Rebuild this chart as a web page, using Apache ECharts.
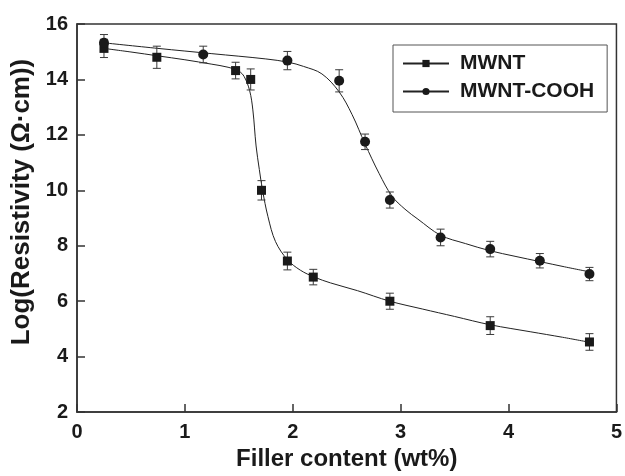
<!DOCTYPE html>
<html>
<head>
<meta charset="utf-8">
<script src="https://cdn.jsdelivr.net/npm/echarts@6/dist/echarts.min.js"></script>
<style>
  html, body { margin: 0; padding: 0; background: #fff; }
  #chart { width: 625px; height: 476px; }
</style>
</head>
<body>
<div id="chart"></div>
<script>
"use strict";

// measured points (wt%, log resistivity, error)
var mwntX = [0.25, 0.74, 1.47, 1.61, 1.71, 1.95, 2.19, 2.90, 3.83, 4.75];
var mwntY = [15.12, 14.80, 14.32, 14.00, 10.00, 7.45, 6.87, 6.00, 5.12, 4.53];
var mwntErr = [0.33, 0.40, 0.30, 0.38, 0.35, 0.32, 0.28, 0.29, 0.32, 0.30];

var coohX = [0.25, 1.17, 1.95, 2.43, 2.67, 2.90, 3.37, 3.83, 4.29, 4.75];
var coohY = [15.32, 14.90, 14.68, 13.95, 11.75, 9.65, 8.30, 7.88, 7.46, 6.98];
var coohErr = [0.30, 0.30, 0.33, 0.40, 0.28, 0.29, 0.30, 0.28, 0.26, 0.24];

// fitted curves
var mwntFitX = [0.25, 0.5, 0.75, 1.0, 1.25, 1.4, 1.5, 1.55, 1.6, 1.63, 1.66, 1.69, 1.72, 1.77, 1.84, 1.95, 2.07, 2.2, 2.35, 2.6, 2.9, 3.2, 3.5, 3.83, 4.2, 4.5, 4.75];
var mwntFitY = [15.12, 14.99, 14.85, 14.71, 14.55, 14.44, 14.3, 14.1, 13.6, 12.9, 11.6, 10.75, 10.0, 9.05, 8.15, 7.5, 7.12, 6.87, 6.66, 6.38, 6.0, 5.72, 5.45, 5.15, 4.90, 4.70, 4.52];

var coohFitX = [0.25, 0.75, 1.25, 1.75, 1.96, 2.1, 2.27, 2.43, 2.55, 2.67, 2.8, 2.92, 3.04, 3.16, 3.37, 3.6, 3.83, 4.06, 4.29, 4.52, 4.75];
var coohFitY = [15.32, 15.12, 14.93, 14.74, 14.62, 14.47, 14.2, 13.55, 12.73, 11.67, 10.61, 9.79, 9.32, 8.96, 8.38, 8.08, 7.82, 7.62, 7.43, 7.24, 7.06];

var xTicks = { min: 0, max: 5, step: 1 };
var yTicks = { min: 2, max: 16, step: 2 };

var FONT = "'Liberation Sans', Arial, sans-serif";
var INK = "#1a1a1a";

function pairs(xs, ys) {
    var a = [];
    for (var i = 0; i < xs.length; i++) { a.push([xs[i], ys[i]]); }
    return a;
}

function triples(xs, ys, es) {
    var a = [];
    for (var i = 0; i < xs.length; i++) { a.push([xs[i], ys[i], es[i]]); }
    return a;
}

function errBar(params, api) {
    var x = api.value(0), y = api.value(1), e = api.value(2);
    var hi = api.coord([x, y + e]);
    var lo = api.coord([x, y - e]);
    var w = 4;
    var st = { stroke: "#3a3a3a", lineWidth: 1 };
    return {
        type: "group",
        children: [
            { type: "line", shape: { x1: hi[0], y1: hi[1], x2: lo[0], y2: lo[1] }, style: st },
            { type: "line", shape: { x1: hi[0] - w, y1: hi[1], x2: hi[0] + w, y2: hi[1] }, style: st },
            { type: "line", shape: { x1: lo[0] - w, y1: lo[1], x2: lo[0] + w, y2: lo[1] }, style: st }
        ]
    };
}

var chart = echarts.init(document.getElementById("chart"));

var axisCommon = {
    type: "value",
    nameLocation: "middle",
    nameTextStyle: { fontFamily: FONT, fontSize: 24, fontWeight: "bold", color: INK },
    axisLine: { show: true, lineStyle: { color: "#333", width: 1.5 } },
    axisTick: { show: true, inside: true, length: 8, lineStyle: { color: "#333", width: 1.5 } },
    axisLabel: { fontFamily: FONT, fontSize: 20, fontWeight: "bold", color: INK },
    splitLine: { show: false }
};

var option = {
    animation: false,
    backgroundColor: "#fff",
    grid: {
        left: 77, right: 8, top: 24, bottom: 56,
        show: true, borderColor: "#333", borderWidth: 1.5
    },
    legend: {
        data: ["MWNT", "MWNT-COOH"],
        orient: "vertical",
        left: 393,
        top: 45,
        itemWidth: 46,
        itemHeight: 9,
        itemGap: 7,
        padding: [8, 13, 10, 9],
        borderColor: "#555",
        borderWidth: 1,
        backgroundColor: "#fff",
        textStyle: { fontFamily: FONT, fontSize: 21, fontWeight: "bold", color: INK, padding: [0, 0, 0, 6] }
    },
    xAxis: Object.assign({}, axisCommon, {
        name: "Filler content (wt%)",
        nameGap: 32,
        min: xTicks.min, max: xTicks.max, interval: xTicks.step,
        axisLabel: Object.assign({}, axisCommon.axisLabel, { margin: 10 })
    }),
    yAxis: Object.assign({}, axisCommon, {
        name: "Log(Resistivity (\u03a9\u00b7cm))",
        nameGap: 42,
        nameTextStyle: Object.assign({}, axisCommon.nameTextStyle, { fontSize: 26, padding: [0, 0, 0, 32] }),
        min: yTicks.min, max: yTicks.max, interval: yTicks.step,
        axisLabel: Object.assign({}, axisCommon.axisLabel, { margin: 9 })
    }),
    series: [
        {
            name: "MWNT", type: "line", data: pairs(mwntFitX, mwntFitY),
            smooth: 0.35, symbol: "rect", showSymbol: false,
            lineStyle: { color: "#222", width: 1 }, itemStyle: { color: INK }, z: 2
        },
        {
            name: "MWNT-COOH", type: "line", data: pairs(coohFitX, coohFitY),
            smooth: 0.35, symbol: "circle", showSymbol: false,
            lineStyle: { color: "#222", width: 1 }, itemStyle: { color: INK }, z: 2
        },
        { name: "errMWNT", type: "custom", renderItem: errBar, data: triples(mwntX, mwntY, mwntErr), z: 3 },
        { name: "errCOOH", type: "custom", renderItem: errBar, data: triples(coohX, coohY, coohErr), z: 3 },
        {
            name: "ptMWNT", type: "scatter", data: pairs(mwntX, mwntY),
            symbol: "rect", symbolSize: 9, itemStyle: { color: INK, opacity: 1 }, z: 4
        },
        {
            name: "ptCOOH", type: "scatter", data: pairs(coohX, coohY),
            symbol: "circle", symbolSize: 10, itemStyle: { color: INK, opacity: 1 }, z: 4
        }
    ]
};

chart.setOption(option);
</script>
</body>
</html>
